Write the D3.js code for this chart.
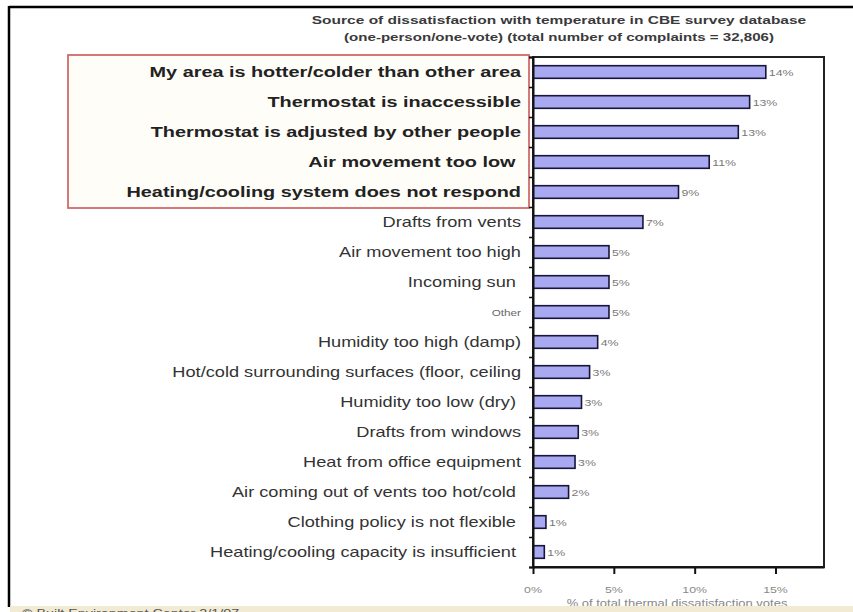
<!DOCTYPE html>
<html>
<head>
<meta charset="utf-8">
<script src="https://cdn.jsdelivr.net/npm/d3@7.9.0/dist/d3.min.js"></script>
<style>
  body { margin: 0; background: #fff; }
  svg { display: block; font-family: "Liberation Sans", Arial, sans-serif; }
  .lbl { white-space: pre; }
</style>
</head>
<body>
<svg id="chart" width="853" height="612"></svg>
<script>
// ====== Data ======
const categories = [
  'My area is hotter/colder than other area',
  'Thermostat is inaccessible',
  'Thermostat is adjusted by other people',
  'Air movement too low ',
  'Heating/cooling system does not respond',
  'Drafts from vents',
  'Air movement too high',
  'Incoming sun ',
  'Other',
  'Humidity too high (damp)',
  'Hot/cold surrounding surfaces (floor, ceiling',
  'Humidity too low (dry) ',
  'Drafts from windows',
  'Heat from office equipment',
  'Air coming out of vents too hot/cold ',
  'Clothing policy is not flexible ',
  'Heating/cooling capacity is insufficient '
];
const values = [14.4, 13.4, 12.7, 10.9, 9.0, 6.8, 4.7, 4.7, 4.7, 4.0, 3.5, 3.0, 2.8, 2.6, 2.2, 0.8, 0.7];
const valueLabels = ['14%', '13%', '13%', '11%', '9%', '7%', '5%', '5%', '5%', '4%', '3%', '3%', '3%', '3%', '2%', '1%', '1%'];
const highlighted = categories.slice(0, 5);
const xTicks = [0, 5, 10, 15];
const titleLines = [
  'Source of dissatisfaction with temperature in CBE survey database',
  '(one-person/one-vote) (total number of complaints = 32,806)'
];
const xTitle = '% of total thermal dissatisfaction votes';

// ====== Setup ======
const svg = d3.select('#chart');
const SX = 1.3; // text in the picture is stretched sideways
const plot = { left: 533, right: 824, top: 57, bottom: 567 };

const x = d3.scaleLinear().domain([0, 18]).range([plot.left, plot.right]);
const y = d3.scaleBand().domain(categories).range([plot.top, plot.bottom]).paddingInner(0.58).paddingOuter(0.29);
const yEdges = d3.scaleLinear().domain([0, categories.length]).range([plot.top, plot.bottom]);

function stretchedText(g, tx, ty, sx = SX) {
  return g.append('text').attr('transform', `translate(${tx},${ty}) scale(${sx},1)`);
}

// ====== Outer page frame ======
svg.append('line').attr('x1', 9).attr('x2', 853).attr('y1', 7).attr('y2', 7)
  .attr('stroke', '#000').attr('stroke-width', 2.5);
svg.append('line').attr('x1', 9).attr('x2', 9).attr('y1', 6).attr('y2', 607)
  .attr('stroke', '#000').attr('stroke-width', 2.5);

// ====== Title ======
titleLines.forEach((t, i) => {
  stretchedText(svg, 559, 24 + i * 17, i === 0 ? 1.41 : 1.37)
    .attr('text-anchor', 'middle')
    .attr('font-size', 11)
    .attr('font-weight', 'bold')
    .attr('fill', '#3a3a3a')
    .text(t);
});

// ====== Red highlight box ======
svg.append('rect')
  .attr('x', 68).attr('y', 55).attr('width', 461).attr('height', 153)
  .attr('fill', '#fffdf8').attr('stroke', '#d06a6a').attr('stroke-width', 1.8);

// ====== Bars ======
svg.append('g').selectAll('rect').data(categories).join('rect')
  .attr('x', x(0))
  .attr('y', (d) => y(d))
  .attr('width', (d, i) => x(values[i]) - x(0))
  .attr('height', y.bandwidth())
  .attr('fill', '#a9a9f2')
  .attr('stroke', '#16163a')
  .attr('stroke-width', 1.6);

// value labels
categories.forEach((c, i) => {
  stretchedText(svg, x(values[i]) + 3, y(c) + y.bandwidth() / 2 + 3.5)
    .attr('font-size', 9.5)
    .attr('fill', '#777')
    .text(valueLabels[i]);
});

// category labels
categories.forEach((c) => {
  const isHi = highlighted.includes(c);
  const small = c === 'Other';
  stretchedText(svg, 521, y(c) + y.bandwidth() / 2 + (small ? 3.5 : 5), isHi ? 1.36 : SX)
    .attr('class', 'lbl')
    .attr('text-anchor', 'end')
    .attr('font-size', small ? 9 : (isHi ? 14.6 : 14))
    .attr('font-weight', isHi ? 'bold' : 'normal')
    .attr('fill', small ? '#666' : (isHi ? '#222' : '#333'))
    .text(c);
});

// ====== Frame + axes ======
svg.append('rect')
  .attr('x', plot.left).attr('y', plot.top)
  .attr('width', plot.right - plot.left).attr('height', plot.bottom - plot.top)
  .attr('fill', 'none').attr('stroke', '#222').attr('stroke-width', 2);

const yAxis = svg.append('g')
  .attr('transform', `translate(${plot.left},0)`)
  .call(d3.axisLeft(yEdges).tickValues(d3.range(categories.length + 1)).tickSize(4).tickFormat(''));
yAxis.select('.domain').attr('stroke', '#111').attr('stroke-width', 2);
yAxis.selectAll('.tick line').attr('stroke', '#111').attr('stroke-width', 1.5);

const xAxis = svg.append('g')
  .attr('transform', `translate(0,${plot.bottom})`)
  .call(d3.axisBottom(x).tickValues(xTicks).tickSize(7).tickSizeOuter(0).tickFormat(''));
xAxis.select('.domain').attr('stroke', '#111').attr('stroke-width', 2);
xAxis.selectAll('.tick line').attr('stroke', '#111').attr('stroke-width', 2);

xTicks.forEach((t) => {
  stretchedText(svg, x(t), 593)
    .attr('text-anchor', 'middle')
    .attr('font-size', 9.5)
    .attr('fill', '#888')
    .text(t + '%');
});

stretchedText(svg, 677, 607)
  .attr('text-anchor', 'middle')
  .attr('font-size', 10)
  .attr('fill', '#888')
  .text(xTitle);

// ====== Bottom strip ======
svg.append('rect').attr('x', 10).attr('y', 606).attr('width', 843).attr('height', 6)
  .attr('fill', '#f2ead2');
stretchedText(svg, 22, 617)
  .attr('font-size', 11)
  .attr('fill', '#555')
  .text('\u00a9 Built Environment        Center        2/1/07');
</script>
</body>
</html>
